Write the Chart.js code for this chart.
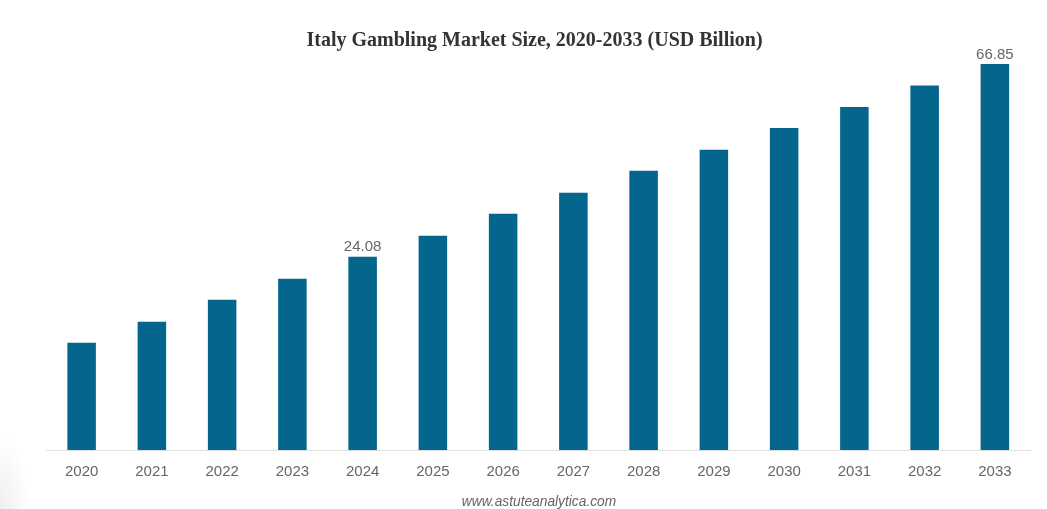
<!DOCTYPE html>
<html>
<head>
<meta charset="utf-8">
<style>
html, body { margin: 0; padding: 0; background: #fff; }
#wrap { position: relative; width: 1047px; height: 509px; overflow: hidden;
  background: radial-gradient(ellipse 30px 75px at 0 509px, #efefef, rgba(255,255,255,0)); }
#title { position: absolute; left: 0; width: 1069px; top: 27px; text-align: center;
  font: bold 20px/24px "Liberation Serif", "Times New Roman", serif; color: #333; }
#source { position: absolute; left: 0; width: 1078px; top: 494px; text-align: center;
  font: italic 13.75px "Liberation Sans", Arial, sans-serif; color: #666; }
</style>
<script src="https://cdn.jsdelivr.net/npm/chart.js@4/dist/chart.umd.min.js"></script>
</head>
<body>
<div id="wrap">
  <canvas id="myChart" width="1047" height="509"></canvas>
  <div id="title">Italy Gambling Market Size, 2020-2033 (USD Billion)</div>
  <div id="source">www.astuteanalytica.com</div>
</div>
<script>
var years = ['2020', '2021', '2022', '2023', '2024', '2025', '2026', '2027', '2028', '2029', '2030', '2031', '2032', '2033'];
var marketSize = [5.02, 9.67, 14.55, 19.2, 24.08, 28.73, 33.6, 38.26, 43.13, 47.79, 52.66, 57.31, 62.08, 66.85];
var labelledYears = ['2024', '2033'];
// the drawn bars do not start at zero, this is where the axis line sits in value terms
var axisFloor = -18.8;

// only some bars carry a value label
var valueLabels = {
    id: 'valueLabels',
    afterDatasetsDraw: function (chart) {
        var ctx = chart.ctx;
        var meta = chart.getDatasetMeta(0);
        ctx.save();
        ctx.font = '15px "Liberation Sans", Arial, sans-serif';
        ctx.fillStyle = '#666666';
        ctx.textAlign = 'center';
        ctx.textBaseline = 'bottom';
        years.forEach(function (year, index) {
            if (labelledYears.indexOf(year) != -1) {
                var bar = meta.data[index];
                ctx.fillText(marketSize[index].toFixed(2), bar.x, bar.y - 2);
            }
        });
        ctx.restore();
    }
};

const ctx = document.getElementById('myChart');
new Chart(ctx, {
    type: 'bar',
    data: {
        labels: years,
        datasets: [{
            data: marketSize,
            base: axisFloor,
            backgroundColor: '#05668d',
            barPercentage: 0.406,
            categoryPercentage: 1
        }]
    },
    options: {
        responsive: false,
        animation: false,
        layout: { padding: { top: 51, left: 46.5, right: 17, bottom: 23 } },
        plugins: {
            legend: { display: false },
            tooltip: { enabled: false }
        },
        scales: {
            x: {
                grid: { display: false },
                border: { color: '#e0e0e0' },
                ticks: {
                    color: '#666666',
                    font: { family: '"Liberation Sans", Arial, sans-serif', size: 15 },
                    maxRotation: 0,
                    autoSkip: false,
                    padding: 5
                }
            },
            y: {
                display: false,
                min: axisFloor,
                max: 69.72
            }
        }
    },
    plugins: [valueLabels]
});
</script>
</body>
</html>
